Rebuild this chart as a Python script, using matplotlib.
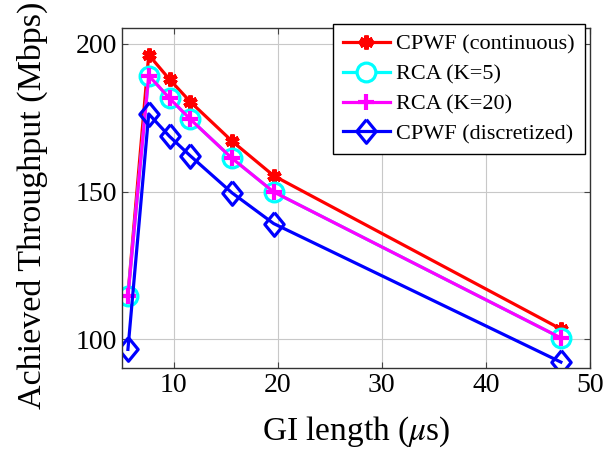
import matplotlib
matplotlib.use("Agg")
import matplotlib.pyplot as plt

# GI lengths (us)
gi_len = [5.6, 7.6, 9.6, 11.6, 15.6, 19.6, 47.2]

cpwf_cont = [115.0, 196.3, 188.0, 180.4, 167.1, 155.4, 103.5]
rca_k5 = [114.7, 189.3, 181.6, 174.5, 161.3, 149.9, 100.5]
rca_k20 = [114.7, 189.3, 181.6, 174.5, 161.3, 149.9, 100.5]
cpwf_disc = [96.6, 176.3, 168.7, 162.1, 149.6, 139.2, 92.3]

plt.rcParams['font.family'] = ['Liberation Serif', 'DejaVu Serif']
plt.rcParams['mathtext.fontset'] = 'stix'

fig = plt.figure(figsize=(6.13, 4.49), dpi=100)
ax = fig.add_axes([0.1985, 0.1804, 0.7640, 0.7566])

# pgfplots-like diamond, a bit taller than wide
diamond = [(0, 1), (0.82, 0), (0, -1), (-0.82, 0), (0, 1)]

lw = 2.3
ax.plot(gi_len, cpwf_cont, color='red', lw=lw, marker=(6, 2, 0), ms=10, mew=3.2,
        mec='red', label='CPWF (continuous)')
ax.plot(gi_len, rca_k5, color='cyan', lw=lw, marker='o', ms=13.5, mew=2.3,
        mfc='white', mec='cyan', label='RCA (K=5)')
ax.plot(gi_len, rca_k20, color='magenta', lw=lw, marker='+', ms=11, mew=3,
        mec='magenta', label='RCA (K=20)')
ax.plot(gi_len, cpwf_disc, color='blue', lw=lw, marker=diamond, ms=17, mew=2.3,
        mfc='none', mec='blue', label='CPWF (discretized)')

ax.set_xlim(5, 50)
ax.set_ylim(90.3, 205.3)
ax.set_xticks([10, 20, 30, 40, 50])
ax.set_yticks([100, 150, 200])
ax.grid(True, color='#c8c8c8', lw=0.8)
ax.set_axisbelow(True)
ax.tick_params(direction='in', labelsize=20, length=4, top=True, right=True,
               color='#444444')
for s in ax.spines.values():
    s.set_color('#333333')
    s.set_linewidth(1.0)

ax.set_xlabel(r'GI length ($\mu$s)', fontsize=24, labelpad=12)
ax.set_ylabel('Achieved Throughput (Mbps)', fontsize=24.5)
ax.yaxis.set_label_coords(-0.158, 0.48)

leg = ax.legend(loc='upper right', bbox_to_anchor=(585 / 613, 1 - 24 / 449),
                bbox_transform=fig.transFigure, fontsize=16, fancybox=False,
                edgecolor='black', framealpha=1, handlelength=2.1,
                borderpad=0.45, labelspacing=0.42, handletextpad=0.3,
                borderaxespad=0)
leg.get_frame().set_linewidth(1.0)

fig.savefig('out.png', dpi=100)
